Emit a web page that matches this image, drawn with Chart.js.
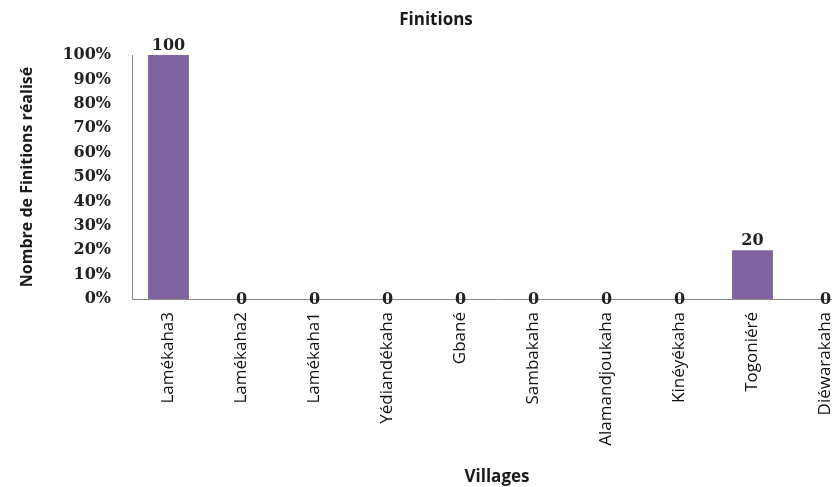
<!DOCTYPE html>
<html>
<head>
<meta charset="utf-8">
<script src="https://cdn.jsdelivr.net/npm/chart.js@4/dist/chart.umd.min.js"></script>
<style>
    html, body { margin: 0; padding: 0; background: #fff; overflow: hidden; }
    #wrap { width: 896px; height: 487px; }
</style>
</head>
<body>
<div id="wrap"><canvas id="chart" width="896" height="487"></canvas></div>
<script>
const villages = ['Lamékaha3', 'Lamékaha2', 'Lamékaha1', 'Yédiandékaha', 'Gbané',
    'Sambakaha', 'Alamandjoukaha', 'Kinéyékaha', 'Togoniéré', 'Diéwarakaha'];
const finitions = [100, 0, 0, 0, 0, 0, 0, 0, 20, 0];
const yTicks = [0, 10, 20, 30, 40, 50, 60, 70, 80, 90, 100];

// etiquettes de valeur au-dessus des barres (les zeros restent sur l'axe)
const valueLabels = {
    id: 'valueLabels',
    afterDatasetsDraw(chart) {
        const ctx = chart.ctx;
        const meta = chart.getDatasetMeta(0);
        ctx.save();
        ctx.font = 'bold 16px "DejaVu Serif"';
        ctx.fillStyle = '#222';
        ctx.textAlign = 'center';
        meta.data.forEach((bar, i) => {
            const v = finitions[i];
            if (v === 0) {
                ctx.textBaseline = 'middle';
                ctx.fillText(String(v), bar.x, bar.y + 1);
            } else {
                ctx.textBaseline = 'alphabetic';
                ctx.fillText(String(v), bar.x, bar.y - 5);
            }
        });
        ctx.restore();
    }
};

new Chart(document.getElementById('chart'), {
    type: 'bar',
    data: {
        labels: villages,
        datasets: [{
            label: 'Finitions',
            data: finitions,
            backgroundColor: '#8064a2',
            borderWidth: 0,
            barPercentage: 0.56,
            categoryPercentage: 1
        }]
    },
    options: {
        responsive: false,
        animation: false,
        layout: { padding: { left: 10, right: 34, top: 0, bottom: 0 } },
        plugins: {
            legend: { display: false },
            tooltip: { enabled: false },
            title: {
                display: true,
                text: 'Finitions',
                color: '#1a1a1a',
                font: { family: '"Open Sans"', size: 17, weight: 'bold', lineHeight: 1.2 },
                padding: { top: 10, bottom: 24.6 }
            }
        },
        scales: {
            x: {
                offset: true,
                grid: { display: false, drawTicks: false },
                border: { display: true, color: '#8a8a8a', width: 1 },
                ticks: {
                    autoSkip: false,
                    maxRotation: 90,
                    minRotation: 90,
                    padding: 13,
                    color: '#111',
                    font: { family: '"Open Sans"', size: 17 }
                },
                title: {
                    display: true,
                    text: 'Villages',
                    color: '#1a1a1a',
                    font: { family: '"Open Sans"', size: 17, weight: 'bold', lineHeight: 1.2 },
                    padding: { top: 0, bottom: 0 }
                },
                afterFit(scale) { scale.height = 188; }
            },
            y: {
                min: 0,
                max: 100,
                afterBuildTicks(scale) { scale.ticks = yTicks.map(v => ({ value: v })); },
                grid: { display: false, drawTicks: false },
                border: { display: true, color: '#8a8a8a', width: 1 },
                ticks: {
                    padding: 21,
                    color: '#222',
                    font: { family: '"DejaVu Serif"', size: 16, weight: 'bold' },
                    callback: v => v + '%'
                },
                title: {
                    display: true,
                    text: 'Nombre de Finitions réalisé',
                    color: '#1a1a1a',
                    font: { family: '"Open Sans"', size: 16, weight: 'bold', lineHeight: 1.2 },
                    padding: { top: 8, bottom: 0 }
                },
                afterFit(scale) { scale.width = 122; }
            }
        }
    },
    plugins: [valueLabels]
});
</script>
</body>
</html>
